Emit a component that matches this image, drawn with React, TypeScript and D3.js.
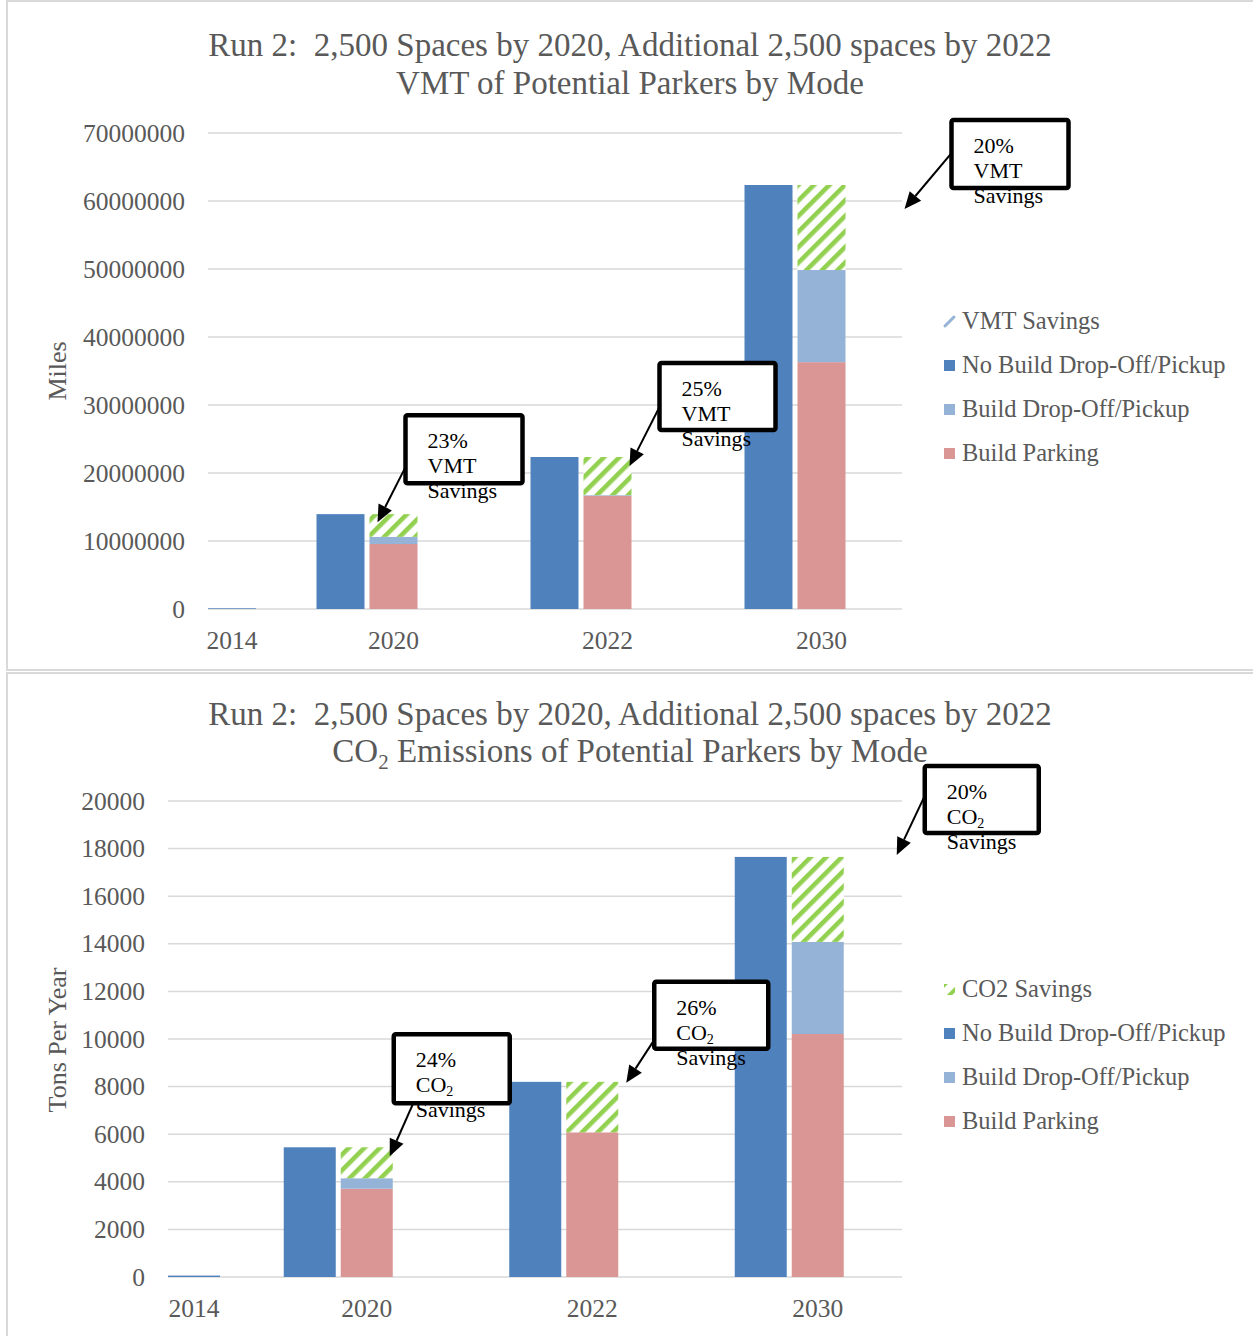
import React from "react";
import * as d3 from "d3";

// ---------- DATA ----------
const categories = ["2014", "2020", "2022", "2030"];

const vmtNoBuild = [100000, 13950000, 22350000, 62350000];
const vmtBuildParking = [0, 9560000, 16650000, 36300000];
const vmtBuildDropoff = [0, 1050000, 100000, 13550000];
const vmtTicks = [0, 10000000, 20000000, 30000000, 40000000, 50000000, 60000000, 70000000];
const vmtCallouts = ["", "23%", "25%", "20%"];
const vmtLegend = ["VMT Savings", "No Build Drop-Off/Pickup", "Build Drop-Off/Pickup", "Build Parking"];

const co2NoBuild = [60, 5450, 8200, 17650];
const co2BuildParking = [0, 3710, 6080, 10210];
const co2BuildDropoff = [0, 440, 0, 3870];
const co2Ticks = [0, 2000, 4000, 6000, 8000, 10000, 12000, 14000, 16000, 18000, 20000];
const co2Callouts = ["", "24%", "26%", "20%"];
const co2Legend = ["CO2 Savings", "No Build Drop-Off/Pickup", "Build Drop-Off/Pickup", "Build Parking"];

// ---------- STYLE ----------
const C_NOBUILD = "#4F81BD";
const C_DROPOFF = "#95B3D7";
const C_PARKING = "#D99694";
const C_GREEN = "#92D050";
const C_TEXT = "#595959";
const C_GRID = "#D9D9D9";
const FONT = "'Liberation Serif', 'Times New Roman', serif";

type Callout = { bx: number; by: number; w: number; h: number; ax: number; ay: number; tx: number; ty: number };

type ChartCfg = {
  id: string;
  titleY: [number, number];
  title2: "vmt" | "co2";
  plotLeft: number;
  plotRight: number;
  yBottom: number;
  yTopPx: number;
  yMax: number;
  ticks: number[];
  bandRange: [number, number];
  barW: number;
  gap: number;
  noBuild: number[];
  parking: number[];
  dropoff: number[];
  callouts: string[];
  calloutLayout: (Callout | null)[];
  calloutWord: "vmt" | "co2";
  legend: string[];
  legendY: number;
  axisTitle: string;
  axisTitleY: number;
  xLabelY: number;
  panel: [number, number];
};

const charts: ChartCfg[] = [
  {
    id: "vmt",
    titleY: [56, 94],
    title2: "vmt",
    plotLeft: 208,
    plotRight: 902,
    yBottom: 609,
    yTopPx: 133,
    yMax: 70000000,
    ticks: vmtTicks,
    bandRange: [46, 902],
    barW: 48,
    gap: 5,
    noBuild: vmtNoBuild,
    parking: vmtBuildParking,
    dropoff: vmtBuildDropoff,
    callouts: vmtCallouts,
    calloutLayout: [
      null,
      { bx: 12, by: -99, w: 117, h: 68, ax: 13, ay: -49, tx: -16, ty: 8 },
      { bx: 52, by: -94, w: 116, h: 67, ax: 53, ay: -52, tx: 22, ty: 9 },
      { bx: 130, by: -65, w: 117, h: 68, ax: 130, ay: -32, tx: 83, ty: 24 },
    ],
    calloutWord: "vmt",
    legend: vmtLegend,
    legendY: 321,
    axisTitle: "Miles",
    axisTitleY: 371,
    xLabelY: 649,
    panel: [1, 670],
  },
  {
    id: "co2",
    titleY: [725, 762],
    title2: "co2",
    plotLeft: 168,
    plotRight: 902,
    yBottom: 1277,
    yTopPx: 801,
    yMax: 20000,
    ticks: co2Ticks,
    bandRange: [0, 902],
    barW: 52,
    gap: 5,
    noBuild: co2NoBuild,
    parking: co2BuildParking,
    dropoff: co2BuildDropoff,
    callouts: co2Callouts,
    calloutLayout: [
      null,
      { bx: 27, by: -113, w: 116, h: 69, ax: 46, ay: -43, tx: 23, ty: 9 },
      { bx: 62, by: -100, w: 114, h: 67, ax: 62, ay: -42, tx: 34, ty: 1 },
      { bx: 107, by: -91, w: 114, h: 67, ax: 106, ay: -59, tx: 79, ty: -2 },
    ],
    calloutWord: "co2",
    legend: co2Legend,
    legendY: 989,
    axisTitle: "Tons Per Year",
    axisTitleY: 1040,
    xLabelY: 1317,
    panel: [673, 1400],
  },
];

function Arrow({ x1, y1, x2, y2 }: { x1: number; y1: number; x2: number; y2: number }) {
  const dx = x2 - x1;
  const dy = y2 - y1;
  const len = Math.sqrt(dx * dx + dy * dy);
  const ux = dx / len;
  const uy = dy / len;
  const hl = 17;
  const hw = 7.5;
  const bx = x2 - ux * hl;
  const by = y2 - uy * hl;
  const pts = [
    [x2, y2],
    [bx - uy * hw, by + ux * hw],
    [bx + uy * hw, by - ux * hw],
  ];
  return (
    <g>
      <line x1={x1} y1={y1} x2={bx} y2={by} stroke="#000" strokeWidth={2} />
      <polygon points={pts.map((p) => p.join(",")).join(" ")} fill="#000" />
    </g>
  );
}

function Chart({ cfg }: { cfg: ChartCfg }) {
  const y = d3.scaleLinear().domain([0, cfg.yMax]).range([cfg.yBottom, cfg.yTopPx]);
  const x = d3.scaleBand<string>().domain(categories).range(cfg.bandRange).padding(0);
  const step = x.bandwidth();
  const cx = (i: number) => (x(categories[i]) as number) + step / 2;
  const hasBuild = (i: number) => cfg.parking[i] + cfg.dropoff[i] > 0;

  const midX = 630;
  const TS = 33;

  return (
    <g>
      {/* panel border */}
      <rect x={7} y={cfg.panel[0]} width={1300} height={cfg.panel[1] - cfg.panel[0]} fill="#fff" stroke={C_GRID} strokeWidth={2} />

      {/* titles */}
      <text x={midX} y={cfg.titleY[0]} textAnchor="middle" fontFamily={FONT} fontSize={TS} fill={C_TEXT}>
        {"Run 2:\u00a0\u00a02,500 Spaces by 2020, Additional 2,500 spaces by 2022"}
      </text>
      {cfg.title2 === "vmt" ? (
        <text x={midX} y={cfg.titleY[1]} textAnchor="middle" fontFamily={FONT} fontSize={TS} fill={C_TEXT}>
          VMT of Potential Parkers by Mode
        </text>
      ) : (
        <text x={midX} y={cfg.titleY[1]} textAnchor="middle" fontFamily={FONT} fontSize={TS} fill={C_TEXT}>
          <tspan>CO</tspan>
          <tspan dy={7} fontSize={21}>2</tspan>
          <tspan dy={-7}> Emissions of Potential Parkers by Mode</tspan>
        </text>
      )}

      {/* gridlines */}
      {cfg.ticks.map((t) => (
        <line key={t} x1={cfg.plotLeft} x2={cfg.plotRight} y1={y(t)} y2={y(t)} stroke={C_GRID} strokeWidth={1.5} />
      ))}

      {/* y tick labels */}
      {cfg.ticks.map((t) => (
        <text key={"l" + t} x={cfg.plotLeft - 23} y={y(t)} dy="0.34em" textAnchor="end" fontFamily={FONT} fontSize={25.5} fill={C_TEXT}>
          {String(t)}
        </text>
      ))}

      {/* axis title */}
      <text
        transform={`translate(66,${cfg.axisTitleY}) rotate(-90)`}
        textAnchor="middle"
        fontFamily={FONT}
        fontSize={26}
        fill={C_TEXT}
      >
        {cfg.axisTitle}
      </text>

      {/* bars */}
      {categories.map((cat, i) => {
        const c = cx(i);
        const blueX = c - cfg.gap / 2 - cfg.barW;
        const stackX = Math.max(c + cfg.gap / 2, cfg.plotLeft);
        const labelX = stackX + cfg.barW / 2;
        const nb = cfg.noBuild[i];
        const pk = cfg.parking[i];
        const dr = cfg.dropoff[i];
        const build = pk + dr;
        return (
          <g key={cat}>
            {hasBuild(i) ? (
              <g>
                <rect x={blueX} y={y(nb)} width={cfg.barW} height={y(0) - y(nb)} fill={C_NOBUILD} />
                <rect x={stackX} y={y(pk)} width={cfg.barW} height={y(0) - y(pk)} fill={C_PARKING} />
                {dr > 0 && <rect x={stackX} y={y(build)} width={cfg.barW} height={y(pk) - y(build)} fill={C_DROPOFF} />}
                <rect x={stackX} y={y(nb)} width={cfg.barW} height={y(build) - y(nb)} fill={`url(#hatch-${cfg.id})`} />
              </g>
            ) : (
              <rect x={stackX} y={y(nb)} width={cfg.barW} height={y(0) - y(nb)} fill={C_NOBUILD} />
            )}
            <text x={labelX} y={cfg.xLabelY} textAnchor="middle" fontFamily={FONT} fontSize={25.5} fill={C_TEXT}>
              {cat}
            </text>
          </g>
        );
      })}

      {/* callouts */}
      {categories.map((cat, i) => {
        const lay = cfg.calloutLayout[i];
        if (!lay || !cfg.callouts[i]) return null;
        const cs = Math.max(cx(i) + cfg.gap / 2, cfg.plotLeft) + cfg.barW / 2;
        const yt = y(cfg.noBuild[i]);
        const bx = cs + lay.bx;
        const by = yt + lay.by;
        const tx = bx + 22;
        const base = by + 33;
        return (
          <g key={"c" + cat}>
            <Arrow x1={cs + lay.ax} y1={yt + lay.ay} x2={cs + lay.tx} y2={yt + lay.ty} />
            <rect x={bx} y={by} width={lay.w} height={lay.h} rx={2} fill="#fff" stroke="#000" strokeWidth={4.5} />
            <text fontFamily={FONT} fontSize={22} fill="#000">
              <tspan x={tx} y={base}>{cfg.callouts[i]}</tspan>
              {cfg.calloutWord === "vmt" ? (
                <tspan x={tx} y={base + 25}>VMT</tspan>
              ) : (
                <>
                  <tspan x={tx} y={base + 25}>CO</tspan>
                  <tspan dy={4} fontSize={14}>2</tspan>
                </>
              )}
              <tspan x={tx} y={base + 50}>Savings</tspan>
            </text>
          </g>
        );
      })}

      {/* legend */}
      {cfg.legend.map((lab, k) => {
        const ly = cfg.legendY + k * 44;
        let marker;
        if (k === 0) {
          marker =
            cfg.id === "vmt" ? (
              <line x1={945} y1={ly + 5} x2={954} y2={ly - 4} stroke={C_DROPOFF} strokeWidth={3} strokeLinecap="round" />
            ) : (
              <rect x={944} y={ly - 5} width={11} height={11} fill={`url(#hatchL-${cfg.id})`} />
            );
        } else {
          const col = k === 1 ? C_NOBUILD : k === 2 ? C_DROPOFF : C_PARKING;
          marker = <rect x={944} y={ly - 5} width={11} height={11} fill={col} />;
        }
        return (
          <g key={lab}>
            {marker}
            <text x={962} y={ly} dy="0.34em" fontFamily={FONT} fontSize={24.5} fill={C_TEXT}>
              {lab}
            </text>
          </g>
        );
      })}
    </g>
  );
}

export default function App() {
  return (
    <svg
      width={1253}
      height={1336}
      viewBox="0 0 1253 1336"
      style={{ position: "absolute", left: 0, top: 0, background: "#fff" }}
    >
      <defs>
        {charts.map((c) => (
          <pattern
            key={c.id}
            id={`hatch-${c.id}`}
            patternUnits="userSpaceOnUse"
            width={11}
            height={11}
            patternTransform="rotate(45)"
          >
            <rect width={11} height={11} fill="#fff" />
            <rect x={0} y={0} width={4.6} height={11} fill={C_GREEN} />
          </pattern>
        ))}
        {charts.map((c) => (
          <pattern
            key={"L" + c.id}
            id={`hatchL-${c.id}`}
            patternUnits="userSpaceOnUse"
            x={944}
            width={11}
            height={11}
            patternTransform="rotate(45)"
          >
            <rect width={11} height={11} fill="#fff" />
            <rect x={0} y={0} width={4} height={11} fill={C_GREEN} />
          </pattern>
        ))}
      </defs>
      <rect width={1253} height={1336} fill="#fff" />
      {charts.map((c) => (
        <Chart key={c.id} cfg={c} />
      ))}
    </svg>
  );
}
